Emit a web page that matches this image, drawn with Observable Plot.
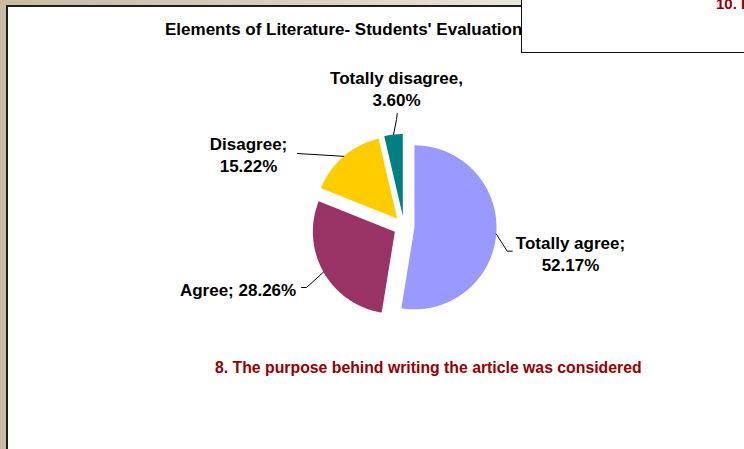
<!DOCTYPE html>
<html><head><meta charset="utf-8">
<script src="https://cdn.jsdelivr.net/npm/d3@7"></script>
<script src="https://cdn.jsdelivr.net/npm/@observablehq/plot@0.6"></script>
<style>
body{margin:0;background:#fff;font-family:Arial,"Liberation Sans",sans-serif;}
#wrap{position:relative;width:744px;height:449px;overflow:hidden;background:#C8BCA6;}
#topband{position:absolute;left:0;top:0;width:744px;height:6px;background:linear-gradient(to right,#C6BAA4 0%,#D9D0BE 40%,#EEEADF 75%);}
#frame{position:absolute;left:6px;top:5px;width:800px;height:500px;border-left:2px solid #1e1e1e;border-top:2px solid #1e1e1e;background:#fff;}
#chart{position:absolute;left:0;top:0;}
#title{position:absolute;left:165px;top:20px;font:bold 17px "Liberation Sans",Arial,sans-serif;line-height:20px;color:#000;white-space:nowrap;}
#caption{position:absolute;left:215px;top:358px;font:bold 15.8px "Liberation Sans",Arial,sans-serif;line-height:20px;color:#960000;white-space:nowrap;}
#box{position:absolute;left:521px;top:-3px;width:300px;height:54px;border:1.5px solid #111;background:#fff;}
#other{position:absolute;left:716px;top:-4px;font:bold 15px "Liberation Sans",Arial,sans-serif;line-height:15px;color:#960000;white-space:nowrap;}
</style></head>
<body>
<div id="wrap">
  <div id="topband"></div>
  <div id="frame"></div>
  <div id="chart"></div>
  <div id="title">Elements of Literature- Students' Evaluation</div>
  <div id="caption">8. The purpose behind writing the article was considered</div>
  <div id="box"></div>
  <div id="other">10. I</div>
</div>
<script>
// Data
const categories = ["Totally agree", "Agree", "Disagree", "Totally disagree"];
const values = [52.17, 28.26, 15.22, 3.60];
const separators = [";\n", "; ", ";\n", ",\n"];
const colors = ["#9999FF", "#993366", "#FFCC00", "#008080"];

// Layout (in pie-radius units, pie centre at 0,0, y up)
const labelPos = [[2.03, -0.317], [-2.024, -0.756], [-1.896, 0.884], [-0.091, 1.695]];
const leaderEnds = [
  [[1.259, -0.301], [1.320, -0.301]],
  [[-1.189, -0.744], [-1.250, -0.744]],
  [[-1.299, 0.890]],
  [[-0.091, 1.305], [-0.083, 1.378]]
];
const explode = 10.5 / 82;
const R = 82, cx = 403.5, cy = 226, W = 744, H = 449;

const arcs = d3.pie().sort(null).value(d => d)(values);
const slicePts = [];
const leaderPts = [];
arcs.forEach((a, i) => {
  const mid = (a.startAngle + a.endAngle) / 2;
  const ox = explode * Math.sin(mid), oy = explode * Math.cos(mid);
  const cat = categories[i];
  slicePts.push({cat, x: ox, y: oy});
  const n = Math.max(2, Math.ceil((a.endAngle - a.startAngle) / 0.01));
  for (let k = 0; k <= n; k++) {
    const t = a.startAngle + (a.endAngle - a.startAngle) * k / n;
    slicePts.push({cat, x: ox + Math.sin(t), y: oy + Math.cos(t)});
  }
  slicePts.push({cat, x: ox, y: oy});
  leaderPts.push({cat, x: ox + Math.sin(mid), y: oy + Math.cos(mid)});
  leaderEnds[i].forEach(p => leaderPts.push({cat, x: p[0], y: p[1]}));
});
const labels = categories.map((c, i) => ({
  cat: c,
  text: c + separators[i] + values[i].toFixed(2) + "%",
  x: labelPos[i][0], y: labelPos[i][1]
}));

const plot = Plot.plot({
  width: W, height: H,
  margin: 0,
  style: {background: "transparent", overflow: "visible"},
  x: {type: "linear", domain: [-cx / R, (W - cx) / R], range: [0, W], axis: null},
  y: {type: "linear", domain: [-(H - cy) / R, cy / R], range: [H, 0], axis: null},
  color: {domain: categories, range: colors},
  marks: [
    Plot.line(slicePts, {x: "x", y: "y", z: "cat", fill: "cat", stroke: "none", curve: "linear"}),
    Plot.line(leaderPts, {x: "x", y: "y", z: "cat", stroke: "#000", strokeWidth: 1}),
    Plot.text(labels, {x: "x", y: "y", text: "text", fontWeight: "bold", fontSize: 17,
      lineHeight: 1.3, fill: "#000", textAnchor: "middle", fontFamily: "Liberation Sans, Arial, sans-serif"})
  ]
});
document.getElementById("chart").appendChild(plot);
</script>
</body></html>
